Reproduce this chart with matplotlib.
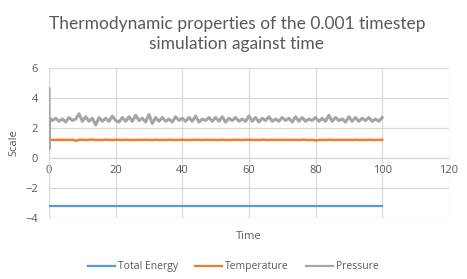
import numpy as np
import matplotlib.pyplot as plt

plt.rcParams['font.family'] = ['Open Sans', 'DejaVu Sans']

# early transient of the run
time_early = [0.0, 0.05, 0.1, 0.5]
pressure_early = [4.6, 0.6, 2.4, 2.6]
temperature_early = [1.2, 1.15, 1.2, 1.21]

# sampled every time unit from 1 to 100
time_main = np.arange(1, 101)
pressure_main = [2.5, 2.65, 2.45, 2.6, 2.4, 2.7, 2.5, 2.6, 2.95, 2.45,
                 2.75, 2.45, 2.65, 2.2, 2.7, 2.45, 2.65, 2.45, 2.8, 2.5,
                 2.4, 2.7, 2.45, 2.75, 2.45, 2.85, 2.5, 2.65, 2.4, 2.9,
                 2.3, 2.7, 2.45, 2.7, 2.45, 2.6, 2.4, 2.75, 2.5, 2.65,
                 2.45, 2.7, 2.45, 2.8, 2.4, 2.6, 2.5, 2.7, 2.45, 2.7,
                 2.45, 2.75, 2.4, 2.65, 2.5, 2.7, 2.45, 2.6, 2.45, 2.8,
                 2.45, 2.7, 2.4, 2.65, 2.5, 2.75, 2.45, 2.6, 2.45, 2.7,
                 2.5, 2.65, 2.4, 2.75, 2.45, 2.7, 2.45, 2.6, 2.5, 2.7,
                 2.45, 2.65, 2.45, 2.85, 2.45, 2.7, 2.5, 2.6, 2.4, 2.75,
                 2.45, 2.7, 2.45, 2.65, 2.5, 2.7, 2.45, 2.6, 2.45, 2.7]
temperature_main = [1.21, 1.2, 1.22, 1.2, 1.21, 1.2, 1.22, 1.15, 1.21, 1.22,
                    1.2, 1.21, 1.23, 1.2, 1.21, 1.2, 1.22, 1.21, 1.2, 1.22,
                    1.21, 1.2, 1.22, 1.2, 1.21, 1.2, 1.22, 1.2, 1.21, 1.21,
                    1.2, 1.22, 1.2, 1.21, 1.2, 1.22, 1.21, 1.2, 1.21, 1.22,
                    1.2, 1.21, 1.2, 1.22, 1.21, 1.2, 1.22, 1.2, 1.21, 1.21,
                    1.2, 1.22, 1.2, 1.21, 1.2, 1.22, 1.21, 1.2, 1.21, 1.22,
                    1.2, 1.21, 1.2, 1.22, 1.21, 1.2, 1.22, 1.2, 1.21, 1.21,
                    1.2, 1.22, 1.2, 1.21, 1.2, 1.22, 1.21, 1.2, 1.21, 1.17,
                    1.2, 1.21, 1.2, 1.22, 1.21, 1.2, 1.22, 1.2, 1.21, 1.21,
                    1.2, 1.22, 1.2, 1.21, 1.2, 1.22, 1.21, 1.2, 1.21, 1.21]
total_energy = -3.2

time = np.concatenate([time_early, time_main])
pressure = np.concatenate([pressure_early, pressure_main])
temperature = np.concatenate([temperature_early, temperature_main])
energy = np.full(len(time), total_energy)

text_col = '#595959'
grid_col = '#d9d9d9'

fig = plt.figure(figsize=(4.67, 2.79), dpi=100)
ax = fig.add_axes([0.105, 0.219, 0.856, 0.537])

ax.plot(time, energy, color='#5b9bd5', lw=1.6, label='Total Energy', zorder=3)
ax.plot(time, temperature, color='#ed7d31', lw=1.8, label='Temperature', zorder=3)
ax.plot(time, pressure, color='#a5a5a5', lw=2.2, label='Pressure', zorder=3)

ax.set_xlim(0, 120)
ax.set_ylim(-4, 6)
ax.set_xticks(range(0, 121, 20))
ax.set_yticks(range(-4, 7, 2))
ax.grid(True, color=grid_col, lw=0.9)
ax.set_axisbelow(True)

for s in ['top', 'right']:
    ax.spines[s].set_visible(False)
ax.spines['bottom'].set_position(('data', 0))
ax.spines['bottom'].set_color(grid_col)
ax.spines['left'].set_color(grid_col)
ax.tick_params(length=0, labelsize=8, colors=text_col, pad=8)
ax.tick_params(axis='x', pad=5)

ax.set_ylabel('Scale', fontsize=8, color=text_col, labelpad=4)
ax.set_xlabel('Time', fontsize=8, color=text_col)
ax.xaxis.set_label_coords(0.5, -0.085)

ax.set_title('Thermodynamic properties of the 0.001 timestep\nsimulation against time',
             fontsize=12.5, color=text_col, pad=14, x=0.47, linespacing=1.25,
             family=['Lato', 'DejaVu Sans'])

leg = fig.legend(loc='lower center', bbox_to_anchor=(0.5, -0.01), ncol=3, frameon=False,
                 fontsize=7.5, labelcolor=text_col, handlelength=2.6, columnspacing=1.6,
                 handletextpad=0.3)
for h in leg.get_lines():
    h.set_linewidth(1.6)

fig.savefig('out.png', dpi=100)
